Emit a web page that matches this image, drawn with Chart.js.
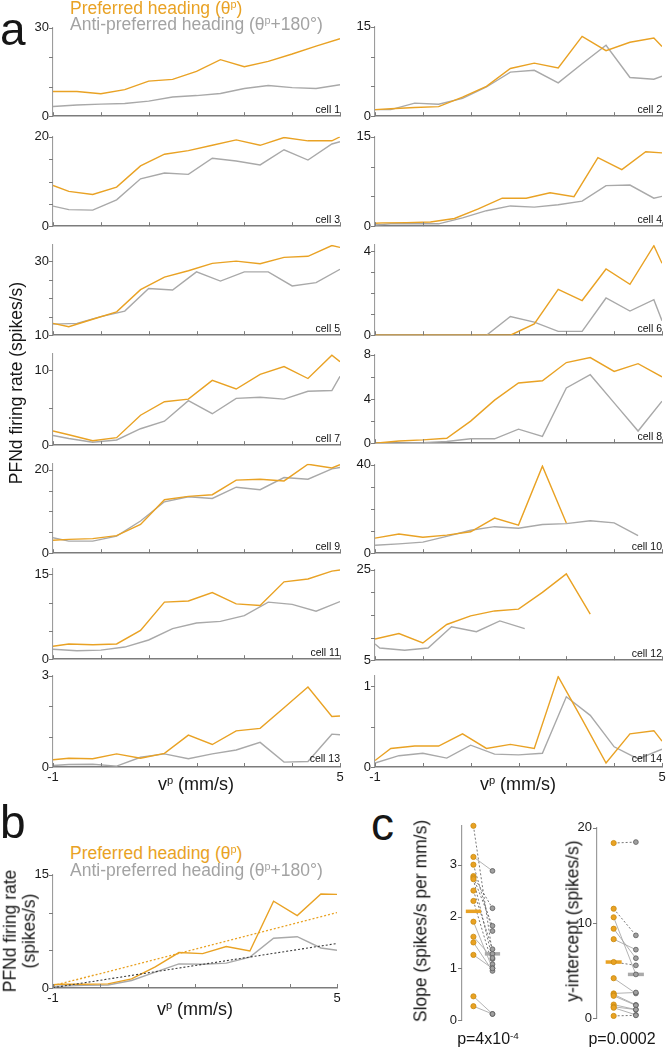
<!DOCTYPE html>
<html>
<head>
<meta charset="utf-8">
<script src="https://cdn.jsdelivr.net/npm/chart.js@4.4.1/dist/chart.umd.min.js"></script>
<style>
  html, body { margin: 0; padding: 0; background: #fff; }
  #fig { position: relative; width: 669px; height: 1050px; overflow: hidden;
         font-family: "Liberation Sans", Arial, sans-serif; }
  #fig canvas { position: absolute; }
  .t { position: absolute; white-space: nowrap; line-height: 1; color: #161616; }
  sup { font-size: 0.62em; vertical-align: 0; position: relative; top: -0.55em; }
</style>
</head>
<body>
<div id="fig"></div>
<script>
// ---- speed bins (mm/s) ----
const vGrid = [-1, -0.5, 0, 0.5, 1, 1.5, 2, 2.5, 3, 3.5, 4, 4.5, 5];
const vShift = [-1, -0.67, -0.17, 0.33, 0.83, 1.33, 1.83, 2.33, 2.83, 3.33, 3.83, 4.33, 4.83, 5];
const vMean = [-1, -0.84, -0.34, 0.16, 0.66, 1.16, 1.66, 2.16, 2.66, 3.16, 3.66, 4.16, 4.66, 5];
const vCell12Anti = [-1, -0.9, -0.38, 0.11, 0.6, 1.12, 1.61, 2.13];
const xTickVals = [-1, 0, 1, 2, 3, 4, 5];
const xTickLabels = [-1, 5];

// ---- firing rates per cell (spikes/s) ----
const cell1Pref = [8.4, 8.4, 7.6, 9.0, 11.9, 12.5, 15.2, 19.2, 16.8, 18.6, 21.1, 23.8, 26.3];
const cell1Anti = [3.3, 3.8, 4.1, 4.3, 5.1, 6.5, 7.0, 7.7, 9.4, 10.4, 9.7, 9.4, 10.7];
const cell2Pref = [1.1, 1.25, 1.45, 1.6, 3.2, 5.0, 8.0, 8.9, 8.1, 13.4, 11.0, 12.4, 13.1, 11.7];
const cell2Anti = [1.1, 1.1, 2.2, 2.0, 3.0, 4.9, 7.4, 7.7, 5.6, 8.8, 11.9, 6.5, 6.2, 6.7];
const cell3Pref = [9.1, 7.8, 7.1, 8.75, 13.5, 16.1, 16.9, 18.1, 19.3, 18.1, 19.85, 19.1, 19.1, 20.0];
const cell3Anti = [4.5, 3.7, 3.6, 5.9, 10.6, 11.9, 11.6, 15.2, 14.6, 13.7, 17.1, 14.8, 18.4, 18.9];
const cell4Pref = [0.5, 0.55, 0.6, 0.7, 1.3, 2.9, 4.7, 4.7, 5.6, 4.95, 11.5, 9.5, 12.5, 12.3];
const cell4Anti = [0.2, 0.4, 0.4, 0.4, 1.4, 2.6, 3.4, 3.2, 3.6, 4.2, 6.8, 6.9, 4.7, 5.0];
const cell5Pref = [13.2, 12.3, 14.3, 16.3, 22.3, 25.7, 27.4, 29.4, 30.0, 29.3, 31.0, 31.3, 34.2, 33.7];
const cell5Anti = [13.0, 13.2, 15.0, 16.5, 22.6, 22.2, 27.1, 24.6, 27.1, 27.1, 23.3, 24.2, 27.8];
const cell6Pref = [0, 0, 0, 0, 0, 0, 0, 0.54, 2.18, 1.65, 3.15, 2.42, 4.26, 3.42];
const cell6Anti = [0, 0, 0, 0, 0, 0, 0.89, 0.62, 0.18, 0.18, 1.77, 1.15, 1.69, 0.69];
const cell7Pref = [1.9, 1.4, 0.6, 1.0, 4.0, 5.8, 6.15, 8.65, 7.5, 9.45, 10.5, 8.9, 12.0, 11.15];
const cell7Anti = [1.3, 0.9, 0.4, 0.7, 2.2, 3.2, 5.95, 4.2, 6.25, 6.4, 6.15, 7.2, 7.3, 9.2];
const cell8Pref = [0, 0.2, 0.3, 0.45, 2.0, 3.9, 5.45, 5.65, 7.3, 7.75, 6.5, 7.2, 6.0];
const cell8Anti = [0, 0, 0.05, 0.15, 0.4, 0.4, 1.27, 0.62, 5.0, 6.2, 3.65, 1.1, 3.8];
const cell9Pref = [3.1, 3.3, 3.5, 4.2, 6.9, 12.8, 13.6, 14.0, 17.5, 17.7, 17.3, 21.3, 20.4, 21.2];
const cell9Anti = [3.7, 2.9, 2.9, 4.1, 7.7, 12.3, 13.5, 13.1, 15.8, 15.2, 18.1, 17.7, 20.2, 20.5];
const cell10Pref = [6.8, 8.7, 7.2, 8.2, 9.7, 15.9, 12.7, 39.4, 13.7];
const cell10Anti = [3.6, 4.2, 5.0, 7.6, 10.4, 12.0, 11.3, 13.0, 13.4, 14.7, 13.7, 7.9];
const cell11Pref = [2.3, 2.7, 2.55, 2.7, 5.1, 10.1, 10.3, 11.8, 9.8, 9.5, 13.7, 14.2, 15.6, 15.8];
const cell11Anti = [1.76, 1.5, 1.6, 2.15, 3.4, 5.4, 6.4, 6.7, 7.7, 10.1, 9.7, 8.5, 10.2];
const cell12Pref = [9.7, 10.9, 8.8, 12.9, 14.8, 15.9, 16.3, 20.0, 24.1, 15.2];
const cell12Anti = [8.6, 7.7, 7.2, 7.7, 12.4, 11.3, 13.7, 12.0];
const cell13Pref = [0.24, 0.29, 0.27, 0.43, 0.29, 0.45, 1.05, 0.74, 1.19, 1.27, 1.95, 2.63, 1.66, 1.68];
const cell13Anti = [0.05, 0.08, 0.09, 0.03, 0.32, 0.43, 0.27, 0.43, 0.56, 0.81, 0.16, 0.18, 1.08, 1.06];
const cell14Pref = [0.08, 0.23, 0.26, 0.26, 0.41, 0.23, 0.28, 0.23, 1.12, 0.59, 0.05, 0.41, 0.45, 0.32];
const cell14Anti = [0.05, 0.14, 0.17, 0.11, 0.27, 0.16, 0.15, 0.17, 0.87, 0.64, 0.25, 0.10, 0.22];

// y axis limits and ticks per cell
const cellYMin = [0, 0, 0, 0, 10, 0, 0, 0, 0, 0, 0, 5, 0, 0];
const cellYMax = [30, 15, 20, 15, 34.4, 4.3, 12.2, 8, 21.4, 40, 16, 25, 3, 1.13];
const cellTicks = [[0, 10, 20, 30], [0, 5, 10, 15], [0, 5, 10, 15, 20], [0, 5, 10, 15],
  [10, 15, 20, 25, 30], [0, 1, 2, 3, 4], [0, 5, 10], [0, 2, 4, 6, 8], [0, 5, 10, 15, 20],
  [0, 10, 20, 30, 40], [0, 5, 10, 15], [5, 10, 15, 20, 25], [0, 1, 2, 3], [0, 0.5, 1]];
const cellTickLabels = [[0, 30], [0, 15], [0, 20], [0, 15], [10, 30], [0, 4], [0, 10], [0, 4, 8],
  [0, 20], [0, 40], [0, 15], [5, 25], [0, 3], [0, 1]];

// ---- panel b: mean across cells ----
const meanPref = [0.45, 0.5, 0.5, 0.55, 1.2, 2.8, 4.7, 4.55, 5.5, 4.9, 11.5, 9.6, 12.45, 12.4];
const meanAnti = [0.2, 0.25, 0.35, 0.4, 1.0, 2.1, 3.2, 3.15, 3.3, 4.1, 6.6, 6.8, 5.3, 5.0];
const fitV = [-1, 5];
const fitPref = [0.3, 10.0];
const fitAnti = [0.05, 5.9];

// ---- panel c: linear fit parameters per cell ----
const slopePref = [3.75, 3.15, 3.0, 2.78, 2.75, 2.72, 2.5, 2.3, 1.9, 1.61, 1.5, 1.26, 0.46, 0.27];
const slopeAnti = [1.28, 2.88, 1.72, 2.16, 1.82, 1.18, 1.37, 1.08, 1.0, 1.2, 0.95, 1.0, 0.12, 0.12];
const slopeGroupB = [0, 2, 3, 4, 5, 6, 7];
const slopeMean = [2.1, 1.28];
const interceptPref = [18.4, 11.5, 10.6, 9.4, 8.3, 5.9, 4.2, 2.6, 2.5, 2.35, 1.43, 1.2, 1.1, 0.24];
const interceptAnti = [18.5, 8.7, 4.6, 6.3, 7.2, 5.55, 2.6, 2.7, 1.4, 1.35, 0.9, 0.9, 0.35, 0.3];
const interceptGroupB = [0, 1, 5, 13];
const interceptMean = [5.9, 4.6];

// ---------------------------------------------------------------
const ORANGE = '#E9A224';
const GREY = '#A9A9A9';
const AXIS_X = '#7c7c7c';
const AXIS_Y = '#9c9c9c';

Chart.defaults.font.family = '"Liberation Sans", Arial, sans-serif';
Chart.defaults.font.size = 13;
Chart.defaults.color = '#1a1a1a';

const fig = document.getElementById('fig');

function addText(html, x, baseline, size, align, color) {
  const d = document.createElement('div');
  d.className = 't';
  d.innerHTML = html;
  d.style.fontSize = size + 'px';
  d.style.left = x + 'px';
  d.style.top = (baseline - 0.85 * size) + 'px';
  if (color) d.style.color = color;
  if (align === 'center') d.style.transform = 'translateX(-50%)';
  if (align === 'right') d.style.transform = 'translateX(-100%)';
  fig.appendChild(d);
  return d;
}

function addVText(html, cx, cy, size) {
  const d = document.createElement('div');
  d.className = 't';
  d.innerHTML = html;
  d.style.fontSize = size + 'px';
  d.style.lineHeight = '1.1';
  d.style.textAlign = 'center';
  d.style.left = cx + 'px';
  d.style.top = cy + 'px';
  d.style.transform = 'translate(-50%,-50%) rotate(-90deg)';
  fig.appendChild(d);
}

function addCanvas(left, top, w, h) {
  const c = document.createElement('canvas');
  c.width = w; c.height = h;
  c.style.left = left + 'px'; c.style.top = top + 'px';
  c.style.width = w + 'px'; c.style.height = h + 'px';
  fig.appendChild(c);
  return c;
}

// small tick marks: y outward, x inward
const tickMarks = {
  id: 'tickMarks',
  afterDraw(chart, args, opts) {
    const { ctx, chartArea: a, scales } = chart;
    ctx.save();
    ctx.lineWidth = 1;
    ctx.strokeStyle = AXIS_X;
    ctx.beginPath();
    scales.y.ticks.forEach(t => {
      const p = Math.round(scales.y.getPixelForValue(t.value)) + 0.5;
      ctx.moveTo(a.left - 4, p); ctx.lineTo(a.left, p);
    });
    if (opts.x !== false) {
      scales.x.ticks.forEach(t => {
        const p = Math.round(scales.x.getPixelForValue(t.value)) + 0.5;
        ctx.moveTo(p, a.bottom); ctx.lineTo(p, a.bottom - 4);
      });
    }
    ctx.stroke();
    ctx.restore();
  }
};

function series(xs, ys, color, extra) {
  return Object.assign({
    data: ys.map((y, i) => ({ x: xs[i], y: y })),
    borderColor: color, borderWidth: 1.4, pointRadius: 0, fill: false, tension: 0
  }, extra || {});
}

function rateChart(box, yMin, yMax, yTicks, yLabels, datasets, showX) {
  const AX = 40, PT = 10, PR = 10, XB = showX ? 22 : 10;
  const c = addCanvas(box.left - AX, box.top - PT, box.width + AX + PR, box.height + PT + XB);
  return new Chart(c, {
    type: 'line',
    data: { datasets: datasets },
    options: {
      responsive: false, devicePixelRatio: 1, animation: false,
      layout: { padding: { top: PT, right: PR, left: 0, bottom: 0 } },
      plugins: { legend: { display: false }, tooltip: { enabled: false } },
      scales: {
        x: {
          type: 'linear', min: -1, max: 5,
          afterBuildTicks: s => { s.ticks = xTickVals.map(v => ({ value: v })); },
          afterFit: s => { s.height = XB; },
          grid: { display: false, drawTicks: false },
          border: { display: true, color: AXIS_X, width: 1.5 },
          ticks: { display: showX, padding: 3, autoSkip: false, maxRotation: 0,
                   callback: v => xTickLabels.includes(v) ? String(v) : '' }
        },
        y: {
          type: 'linear', min: yMin, max: yMax,
          afterBuildTicks: s => { s.ticks = yTicks.map(v => ({ value: v })); },
          afterFit: s => { s.width = AX; },
          grid: { display: false, drawTicks: false },
          border: { display: true, color: AXIS_Y, width: 1.1 },
          ticks: { padding: 4, autoSkip: false,
                   callback: v => yLabels.includes(v) ? String(v) : '' }
        }
      }
    },
    plugins: [tickMarks]
  });
}

// ---- panel a ----
const cellSeries = [
  [cell1Pref, vGrid, cell1Anti, vGrid], [cell2Pref, vShift, cell2Anti, vShift],
  [cell3Pref, vShift, cell3Anti, vShift], [cell4Pref, vMean, cell4Anti, vShift],
  [cell5Pref, vShift, cell5Anti, vGrid], [cell6Pref, vShift, cell6Anti, vShift],
  [cell7Pref, vShift, cell7Anti, vShift], [cell8Pref, vGrid, cell8Anti, vGrid],
  [cell9Pref, vShift, cell9Anti, vShift], [cell10Pref, vGrid, cell10Anti, vGrid],
  [cell11Pref, vShift, cell11Anti, vGrid], [cell12Pref, vGrid, cell12Anti, vCell12Anti],
  [cell13Pref, vShift, cell13Anti, vShift], [cell14Pref, vShift, cell14Anti, vGrid]
];

const colLeft = [53, 375];
const plotW = 287;
const rowTop = [[26, 25], [135, 135], [243, 243], [352, 353], [462, 463], [567, 568], [674, 674]];
const rowBottom = [[118, 118], [228, 228], [337, 337], [447, 445], [555, 555], [661, 662], [767, 767]];

cellSeries.forEach((s, i) => {
  const row = Math.floor(i / 2), col = i % 2;
  const top = rowTop[row][col], bottom = rowBottom[row][col];
  const box = { left: colLeft[col], top: top, width: plotW, height: bottom - top };
  rateChart(box, cellYMin[i], cellYMax[i], cellTicks[i], cellTickLabels[i], [
    series(s[1], s[0], ORANGE),
    series(s[3], s[2], GREY)
  ], row === 6);
  addText('cell ' + (i + 1), colLeft[col] + plotW, bottom - 5, 10.5, 'right', '#111');
});

addText('a', 0, 45, 46);
addText('Preferred heading (&theta;<sup>p</sup>)', 70, 14.5, 17.5, 'left', ORANGE);
addText('Anti-preferred heading (&theta;<sup>p</sup>+180&deg;)', 70, 31, 17.5, 'left', '#a3a3a3');
addVText('PFNd firing rate (spikes/s)', 16.5, 383, 17.5);
addText('v<sup>p</sup> (mm/s)', 196, 790, 18, 'center');
addText('v<sup>p</sup> (mm/s)', 518, 790, 18, 'center');

// ---- panel b ----
rateChart({ left: 53, top: 873, width: 284, height: 115 }, 0, 15, [0, 5, 10, 15], [0, 15], [
  series(fitV, fitPref, ORANGE, { borderDash: [2, 2], borderWidth: 1.3 }),
  series(fitV, fitAnti, '#3a3a3a', { borderDash: [2, 2], borderWidth: 1.1 }),
  series(vMean, meanPref, ORANGE),
  series(vMean, meanAnti, GREY)
], true);

addText('b', 0, 838, 46);
addText('Preferred heading (&theta;<sup>p</sup>)', 70, 860, 17.5, 'left', ORANGE);
addText('Anti-preferred heading (&theta;<sup>p</sup>+180&deg;)', 70, 877, 17.5, 'left', '#a3a3a3');
addVText('PFNd firing rate<br>(spikes/s)', 20, 931, 17.5);
addText('v<sup>p</sup> (mm/s)', 195, 1015, 18, 'center');

// ---- panel c ----
function pairChart(box, xMin, xMax, yMax, yTicks, pref, anti, groupB, means, barHalf) {
  const AX = 40, PT = 10, PR = 6, PB = 10;
  const c = addCanvas(box.left - AX, box.top - PT, box.width + AX + PR, box.height + PT + PB);
  const datasets = [];
  datasets.push({ type: 'scatter', data: pref.map(y => ({ x: 1, y: y })), pointRadius: 2.6,
    backgroundColor: ORANGE, borderColor: '#c98b12', borderWidth: 0.8, clip: false });
  datasets.push({ type: 'scatter', data: anti.map(y => ({ x: 2, y: y })), pointRadius: 2.4,
    backgroundColor: '#a0a0a0', borderColor: '#5a5a5a', borderWidth: 0.8, clip: false });
  datasets.push({ type: 'line', data: [{ x: 1 - barHalf, y: means[0] }, { x: 1 + barHalf, y: means[0] }],
    borderColor: ORANGE, borderWidth: 3.5, pointRadius: 0, clip: false });
  datasets.push({ type: 'line', data: [{ x: 2 - barHalf, y: means[1] }, { x: 2 + barHalf, y: means[1] }],
    borderColor: '#aaaaaa', borderWidth: 3.5, pointRadius: 0, clip: false });
  pref.forEach((y, i) => {
    const b = groupB.includes(i);
    datasets.push({ type: 'line', data: [{ x: 1, y: y }, { x: 2, y: anti[i] }],
      borderColor: b ? '#555555' : '#a0a0a0', borderDash: b ? [2, 2] : [],
      borderWidth: 0.8, pointRadius: 0, clip: false });
  });
  return new Chart(c, {
    type: 'scatter',
    data: { datasets: datasets },
    options: {
      responsive: false, devicePixelRatio: 1, animation: false,
      layout: { padding: { top: PT, right: PR, left: 0, bottom: PB } },
      plugins: { legend: { display: false }, tooltip: { enabled: false }, tickMarks: { x: false } },
      scales: {
        x: { type: 'linear', min: xMin, max: xMax, display: false },
        y: {
          type: 'linear', min: 0, max: yMax,
          afterBuildTicks: s => { s.ticks = yTicks.map(v => ({ value: v })); },
          afterFit: s => { s.width = AX; },
          grid: { display: false, drawTicks: false },
          border: { display: true, color: AXIS_Y, width: 1.2 },
          ticks: { padding: 5, autoSkip: false, callback: v => String(v) }
        }
      }
    },
    plugins: [tickMarks]
  });
}

pairChart({ left: 462, top: 823, width: 40, height: 200 }, 0.4, 2.5, 3.75, [0, 1, 2, 3],
  slopePref, slopeAnti, slopeGroupB, slopeMean, 0.4);
pairChart({ left: 597, top: 825, width: 50, height: 196 }, 0.25, 2.5, 20, [0, 10, 20],
  interceptPref, interceptAnti, interceptGroupB, interceptMean, 0.36);

addText('c', 371, 840, 46);
addVText('Slope (spikes/s per mm/s)', 421, 921, 17.5);
addVText('y-intercept (spikes/s)', 573, 921, 17.5);
addText('p=4x10<sup>-4</sup>', 488, 1045, 16, 'center');
addText('p=0.0002', 622, 1045, 16, 'center');
</script>
</body>
</html>
